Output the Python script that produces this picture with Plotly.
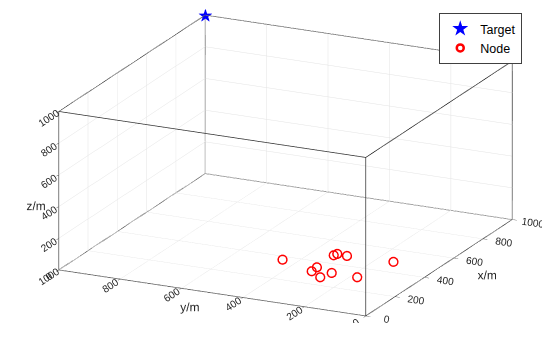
import plotly.graph_objects as go

# 节点坐标 (m)
node_x = [371, 350, 310, 270, 321, 473, 489, 484, 317, 493]
node_y = [449, 327, 325, 278, 265, 331, 327, 293, 180, 146]
node_z = [0, 0, 0, 0, 0, 0, 0, 0, 0, 0]

# 目标坐标
target_x = [1000]
target_y = [1000]
target_z = [1000]

tick_vals = [0, 200, 400, 600, 800, 1000]
axis_range = [0, 1000]

fig = go.Figure()

# 坐标框 (box on): 由坐标范围生成12条棱
lo, hi = axis_range
bx, by, bz = [], [], []
for a in (lo, hi):
    for b in (lo, hi):
        bx += [lo, hi, None]; by += [a, a, None]; bz += [b, b, None]
        bx += [a, a, None]; by += [lo, hi, None]; bz += [b, b, None]
        bx += [a, a, None]; by += [b, b, None]; bz += [lo, hi, None]
fig.add_trace(go.Scatter3d(x=bx, y=by, z=bz, mode="lines",
                           line=dict(color="#333333", width=1.5),
                           hoverinfo="skip", showlegend=False))

fig.add_trace(go.Scatter3d(
    x=target_x, y=target_y, z=target_z, mode="text", text=["★"],
    textposition="middle center",
    textfont=dict(color="#0000ff", size=18), showlegend=False))
fig.add_trace(go.Scatter3d(
    x=node_x, y=node_y, z=node_z, mode="markers",
    marker=dict(symbol="circle-open", size=5.5, color="#ff0000", line=dict(width=3, color="#ff0000")),
    showlegend=False))

# 图例用的二维空轨迹
fig.add_trace(go.Scatter(x=[None], y=[None], mode="markers", name="Target",
                         marker=dict(symbol="star", size=12, color="#0000ff")))
fig.add_trace(go.Scatter(x=[None], y=[None], mode="markers", name="Node",
                         marker=dict(symbol="circle-open", size=7, color="#ff0000", line=dict(width=2.5))))

def ax3d(title):
    return dict(
        title=dict(text=title, font=dict(size=12, color="#262626")),
        range=axis_range, tickvals=tick_vals, autorange=False,
        showbackground=False, showgrid=True, gridcolor="#e3e3e3", gridwidth=1,
        zeroline=False, showline=False,
        ticks="outside", ticklen=5, tickcolor="#404040",
        tickfont=dict(size=11, color="#262626"), showspikes=False,
    )

fig.update_layout(
    width=550, height=339,
    margin=dict(l=0, r=0, t=0, b=0),
    paper_bgcolor="white", plot_bgcolor="white",
    font=dict(family="Liberation Sans, Arial", size=11, color="#262626"),
    xaxis=dict(visible=False), yaxis=dict(visible=False),
    scene=dict(
        domain=dict(x=[0.021, 0.986], y=[0.07, 1.0]),
        xaxis=ax3d("x/m"), yaxis=ax3d("y/m"), zaxis=ax3d("z/m"),
        aspectmode="manual", aspectratio=dict(x=2.16, y=2.16, z=1.06),
        camera=dict(
            eye=dict(x=-0.857 * 2.0, y=-0.409 * 2.0, z=0.314 * 2.0),
            up=dict(x=0, y=0, z=1), center=dict(x=0, y=0, z=0),
            projection=dict(type="orthographic"),
        ),
    ),
    legend=dict(x=0.935, y=0.985, xanchor="right", yanchor="top",
                bordercolor="#404040", borderwidth=1, bgcolor="white",
                tracegroupgap=0,
                font=dict(size=12.5, color="#000000")),
)

fig.write_html("out.html")
